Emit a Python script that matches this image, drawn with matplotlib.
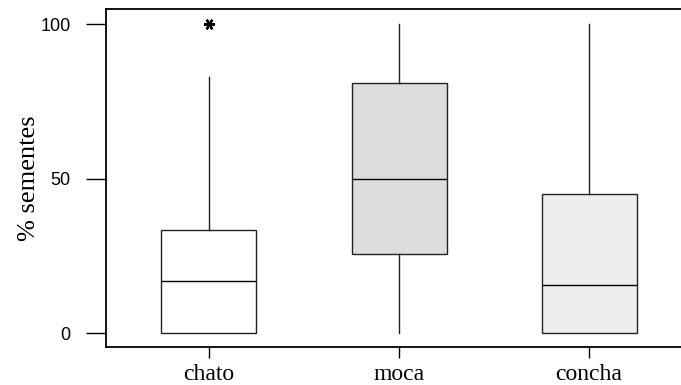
import matplotlib
matplotlib.use('Agg')
import matplotlib.pyplot as plt

# dados dos grupos (percentual de sementes)
grupos = ['chato', 'moca', 'concha']
q1 = [0, 25.5, 0]
mediana = [17, 50, 15.5]
q3 = [33.3, 81, 45]
wlo = [0, 0, 0]
whi = [83, 100, 100]
outliers = [[100], [], []]
cores = ['#ffffff', '#dddddd', '#eeeeee']

stats = []
for i, g in enumerate(grupos):
    stats.append({'label': g, 'q1': q1[i], 'med': mediana[i], 'q3': q3[i],
                  'whislo': wlo[i], 'whishi': whi[i], 'fliers': outliers[i]})

fig = plt.figure(figsize=(6.81, 3.85), dpi=100)
ax = fig.add_axes([106 / 681, 38 / 385, 575 / 681, 338 / 385])

bp = ax.bxp(stats, positions=[1, 2, 3], widths=0.5, patch_artist=True,
            showcaps=False,
            boxprops=dict(edgecolor='#222222', linewidth=1.0),
            medianprops=dict(color='black', linewidth=1.0),
            whiskerprops=dict(color='#222222', linewidth=1.0),
            flierprops=dict(marker=(6, 2, 90), markersize=8,
                            markeredgewidth=1.6, markeredgecolor='black'))
for caixa, c in zip(bp['boxes'], cores):
    caixa.set_facecolor(c)

ax.set_xlim(0.458, 3.484)
ax.set_ylim(-4.5, 104.9)
ax.set_yticks([0, 50, 100])
ax.set_yticklabels(['0', '50', '100'], family='Liberation Sans', fontsize=13)
ax.set_xticks([1, 2, 3])
ax.set_xticklabels(grupos, family='Liberation Serif', fontsize=17)
ax.tick_params(axis='y', length=14.4, width=1.0, pad=11)
ax.tick_params(axis='x', length=8, width=1.0, pad=4)

ax.set_ylabel('% sementes', family='Liberation Serif', fontsize=19)
ax.yaxis.set_label_coords(-66 / 575, 0.5)

ax.spines['right'].set_visible(False)
for s in ['left', 'top', 'bottom']:
    ax.spines[s].set_linewidth(1.3)

fig.savefig('out.png', dpi=100)
